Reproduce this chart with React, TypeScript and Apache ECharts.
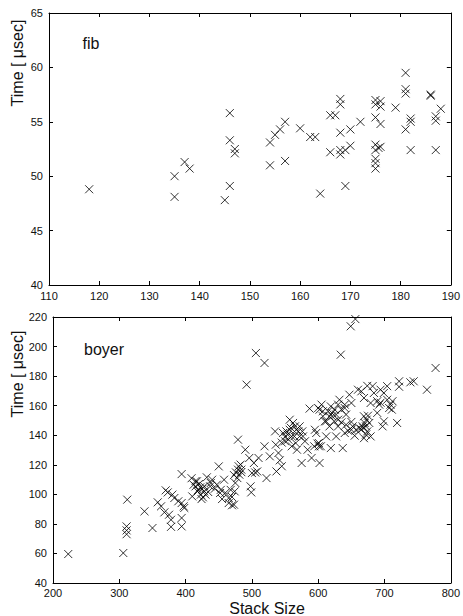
import React, { useEffect, useRef } from "react";
import * as echarts from "echarts";

// ---- fib panel data ----
const fibStack = [118, 135, 135, 137, 138, 145, 146, 146, 146, 147, 147, 154, 154, 155, 156, 157, 157, 160, 162, 163, 164, 166, 166, 167, 168, 168, 168, 168, 168, 169, 169, 170, 170, 172, 175, 175, 175, 175, 175, 175, 175, 175, 176, 176, 176, 176, 175.6, 179, 181, 181, 181, 181, 182, 182, 182, 186, 186, 187, 187, 187, 188];
const fibTime = [48.8, 50.0, 48.1, 51.3, 50.7, 47.8, 55.8, 53.3, 49.1, 52.5, 52.1, 53.1, 51.0, 53.8, 54.3, 55.0, 51.4, 54.4, 53.6, 53.6, 48.4, 52.2, 55.6, 55.6, 57.1, 56.6, 54.0, 52.4, 52.0, 52.4, 49.1, 54.3, 52.8, 55.0, 57.0, 56.6, 55.4, 52.9, 52.4, 51.6, 51.2, 50.7, 56.9, 56.4, 54.8, 52.7, 52.6, 56.3, 59.5, 58.0, 57.6, 54.3, 55.3, 55.0, 52.4, 57.5, 57.4, 55.5, 55.1, 52.4, 56.2];

// ---- boyer panel data ----
const boyerStack = [223, 306, 311, 311, 311, 312, 338, 350, 358, 363, 368, 370, 373, 375, 378, 378, 380, 383, 389, 394, 394, 394, 394, 397, 398, 409, 410, 412, 417, 419, 423, 424, 425, 428, 432, 434, 438, 440, 444, 450, 452, 455, 458, 465, 470, 473, 474, 475, 478, 479, 479, 481, 483, 484, 490, 492, 496, 498, 499, 500, 503, 505, 506, 508, 510, 519, 519, 522, 527, 535, 536, 537, 540, 542, 545, 547, 550, 552, 555, 557, 559, 560, 562, 564, 566, 568, 570, 572, 575, 577, 580, 584, 587, 590, 594, 595, 597, 600, 601, 602, 604, 605, 607, 610, 612, 615, 617, 619, 621, 624, 627, 630, 632, 634, 635, 637, 640, 642, 645, 647, 649, 650, 655, 656, 660, 662, 665, 667, 669, 669, 672, 674, 677, 679, 682, 684, 689, 692, 694, 697, 699, 704, 709, 711, 719, 722, 722, 739, 744, 764, 777,
  650, 652, 657, 665, 668, 670, 673, 675, 674, 679, 627, 630, 635, 640, 642, 625, 617, 612, 607, 602, 601, 599, 557, 554, 560, 565, 567, 572, 576, 550, 545, 473, 476, 484, 480, 428, 430, 422, 418, 415, 689, 694, 699, 704, 707, 712, 650, 619, 621, 630, 640, 672, 669, 470, 415, 420, 426, 437, 447, 453, 460, 465, 468];
const boyerTime = [59.6, 60.3, 78.3, 75.6, 73.0, 96.4, 88.5, 77.2, 94.6, 91.9, 87.8, 102.7, 101.3, 86.2, 82.8, 78.0, 99.8, 97.5, 95.3, 113.7, 94.1, 84.0, 78.3, 91.9, 90.8, 110.9, 98.6, 106.5, 108.8, 103.0, 99.8, 96.8, 103.6, 105.4, 111.5, 101.6, 107.7, 109.9, 103.8, 118.9, 100.9, 96.8, 109.9, 94.1, 98.2, 93.0, 102.0, 107.7, 111.0, 137.0, 116.7, 113.3, 120.1, 115.0, 130.2, 174.2, 124.6, 105.4, 101.3, 114.4, 121.2, 114.8, 195.6, 115.5, 124.6, 188.9, 132.5, 111.0, 125.7, 142.6, 133.6, 115.5, 128.0, 123.0, 119.0, 141.5, 135.9, 142.6, 137.0, 150.5, 144.9, 132.5, 148.3, 139.2, 134.7, 130.2, 142.6, 146.0, 121.2, 139.2, 135.9, 130.2, 158.0, 124.6, 132.5, 143.7, 141.5, 158.4, 134.7, 121.2, 132.5, 160.7, 152.8, 149.4, 139.2, 156.2, 146.0, 131.3, 152.8, 149.4, 139.2, 160.7, 164.0, 194.5, 148.7, 131.3, 158.4, 147.1, 143.0, 167.4, 213.7, 143.7, 139.7, 218.6, 170.8, 144.9, 169.7, 146.0, 165.2, 152.8, 140.4, 173.4, 148.3, 161.8, 173.2, 168.6, 155.1, 160.7, 170.8, 146.0, 149.4, 173.2, 160.7, 157.3, 148.3, 176.5, 172.8, 175.8, 176.5, 170.8, 185.5,
  149.0, 146.0, 143.7, 144.0, 145.0, 148.3, 150.5, 153.2, 142.6, 139.2, 154.0, 150.5, 157.3, 160.7, 154.0, 157.3, 152.8, 149.4, 156.2, 157.3, 132.5, 134.3, 143.7, 140.4, 139.2, 146.0, 143.7, 139.2, 142.6, 139.0, 135.0, 113.0, 114.8, 116.7, 119.0, 102.0, 99.8, 104.7, 102.0, 105.4, 163.0, 162.0, 168.6, 164.0, 158.4, 163.0, 161.8, 159.5, 155.0, 146.0, 141.5, 146.0, 138.0, 92.6, 109.0, 107.0, 98.0, 105.4, 106.5, 103.0, 101.0, 97.5, 103.0];

// ---- axis scales ----
const fibX = { min: 110, max: 190, interval: 10 };
const fibY = { min: 40, max: 65, interval: 5 };
const boyerX = { min: 200, max: 800, interval: 100 };
const boyerY = { min: 40, max: 220, interval: 20 };

const FONT = '"Liberation Sans", Arial, Helvetica, sans-serif';
const CROSS = "path://M0,0L10,10M10,0L0,10";

function axis(grid: number, pos: string, scale: any, labels: boolean, margin: number) {
  return {
    type: "value",
    gridIndex: grid,
    position: pos,
    min: scale.min,
    max: scale.max,
    interval: scale.interval,
    axisLine: { show: true, onZero: false, lineStyle: { color: "#000", width: 1 } },
    axisTick: { show: true, inside: true, length: 4, lineStyle: { color: "#000", width: 1 } },
    axisLabel: {
      show: labels,
      color: "#111",
      fontSize: 11,
      fontFamily: FONT,
      margin,
    },
    splitLine: { show: false },
  };
}

function pairs(xs: number[], ys: number[]) {
  return xs.map((x, i) => [x, ys[i]]);
}

function textEl(text: string, x: number, y: number, rotation = 0) {
  return {
    type: "text",
    x,
    y,
    rotation,
    style: {
      text,
      fontSize: 16,
      fontWeight: "normal",
      fontFamily: FONT,
      fill: "#111",
      align: "center",
      verticalAlign: "middle",
    },
  };
}

export default function App() {
  const ref = useRef<HTMLDivElement>(null);
  useEffect(() => {
    if (!ref.current) return;
    const chart = echarts.init(ref.current, undefined, { renderer: "svg" });
    const scatterStyle = {
      type: "scatter",
      symbol: CROSS,
      symbolSize: 8,
      itemStyle: { color: "rgba(0,0,0,0)", borderColor: "#000", borderWidth: 1 },
      emphasis: { disabled: true },
    };
    chart.setOption({
      animation: false,
      backgroundColor: "#fff",
      grid: [
        { left: 49, top: 13, width: 405, height: 272 },
        { left: 53, top: 317, width: 401, height: 266 },
      ],
      xAxis: [
        axis(0, "bottom", fibX, true, 5),
        axis(0, "top", fibX, false, 5),
        axis(1, "bottom", boyerX, true, 4),
        axis(1, "top", boyerX, false, 4),
      ],
      yAxis: [
        axis(0, "left", fibY, true, 6),
        axis(0, "right", fibY, false, 6),
        axis(1, "left", boyerY, true, 6),
        axis(1, "right", boyerY, false, 6),
      ],
      series: [
        { ...scatterStyle, name: "fib", xAxisIndex: 0, yAxisIndex: 0, data: pairs(fibStack, fibTime) },
        { ...scatterStyle, name: "boyer", xAxisIndex: 2, yAxisIndex: 2, data: pairs(boyerStack, boyerTime) },
      ],
      graphic: [
        textEl("fib", 91, 43),
        textEl("boyer", 104, 349),
        textEl("Time [ μsec]", 17, 63, Math.PI / 2),
        textEl("Time [ μsec]", 17, 374, Math.PI / 2),
        textEl("Stack Size", 267, 608),
      ],
    });
    return () => chart.dispose();
  }, []);
  return (
    <div
      ref={ref}
      style={{ position: "absolute", left: 0, top: 0, width: 463, height: 616, background: "#fff" }}
    />
  );
}
